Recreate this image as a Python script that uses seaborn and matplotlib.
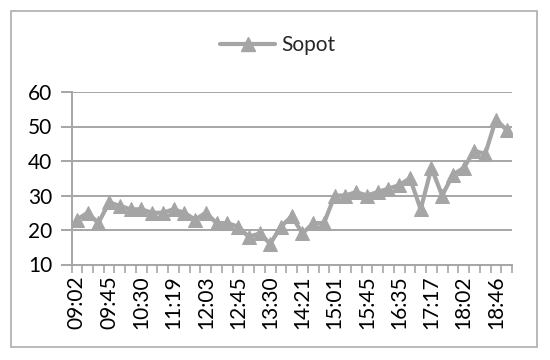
import numpy as np
import pandas as pd
import matplotlib
matplotlib.use('Agg')
import matplotlib.pyplot as plt
from matplotlib.lines import Line2D
from matplotlib.patches import Rectangle
import seaborn as sns

# values, one per time step
sopot = [23, 25, 22, 28, 27, 26, 26, 25, 25, 26, 25, 23, 25, 22, 22, 21, 18, 19, 16, 21,
         24, 19, 22, 22, 30, 30, 31, 30, 31, 32, 33, 35, 26, 38, 30, 36, 38, 43, 42, 52, 49]
# only every third step carries a label
tick_labels = ['09:02', '09:45', '10:30', '11:19', '12:03', '12:45', '13:30',
               '14:21', '15:01', '15:45', '16:35', '17:17', '18:02', '18:46']
series_name = 'Sopot'

GREY = '#A5A5A5'
AXIS = '#A6A6A6'
FS = 15

sns.set_theme(style='white')
plt.rcParams['font.family'] = ['Lato', 'DejaVu Sans']

df = pd.DataFrame({'step': np.arange(len(sopot)), 'value': sopot})

fig = plt.figure(figsize=(5.5, 3.6), dpi=100)
ax = fig.add_axes([71.5 / 550, 95.5 / 360, 440.5 / 550, 172.5 / 360])

sns.lineplot(data=df, x='step', y='value', ax=ax, color=GREY, lw=3,
             marker='^', markersize=10, markeredgecolor=GREY, legend=False)

ax.set_xlim(-0.5, len(sopot) - 0.5)
ax.set_ylim(10, 60)
ax.set_yticks(np.arange(10, 61, 10))
ax.yaxis.grid(True, color=AXIS, lw=1.4)
ax.set_axisbelow(True)

# label positions (no marks) + boundary ticks between categories
ax.set_xticks(np.arange(0, len(sopot), 3))
ax.set_xticklabels(tick_labels, rotation=90)
ax.set_xticks(np.arange(-0.5, len(sopot), 1), minor=True)
ax.tick_params(axis='x', which='major', length=0, pad=8, labelsize=FS, labelcolor='black')
ax.tick_params(axis='x', which='minor', length=6, width=1.2, color=AXIS, direction='out', bottom=True)
ax.tick_params(axis='y', length=8, width=1.4, color=AXIS, left=True, pad=6,
               labelsize=FS, labelcolor='black')
ax.set_xlabel('')
ax.set_ylabel('')

for side in ['top', 'right']:
    ax.spines[side].set_visible(False)
for side in ['left', 'bottom']:
    ax.spines[side].set_color(AXIS)
    ax.spines[side].set_linewidth(1.4)

handle = Line2D([], [], color=GREY, lw=3, marker='^', markersize=10, markeredgecolor=GREY)
fig.legend([handle], [series_name], loc='center', bbox_to_anchor=(0.505, 1 - 45 / 360),
           frameon=False, fontsize=FS, handlelength=2.6, handletextpad=0.3)

fig.patches.append(Rectangle((11 / 550, 13 / 360), 526 / 550, 336 / 360, transform=fig.transFigure,
                             fill=False, edgecolor='#B3B3B3', lw=1.3))

fig.savefig('out.png', dpi=100)
